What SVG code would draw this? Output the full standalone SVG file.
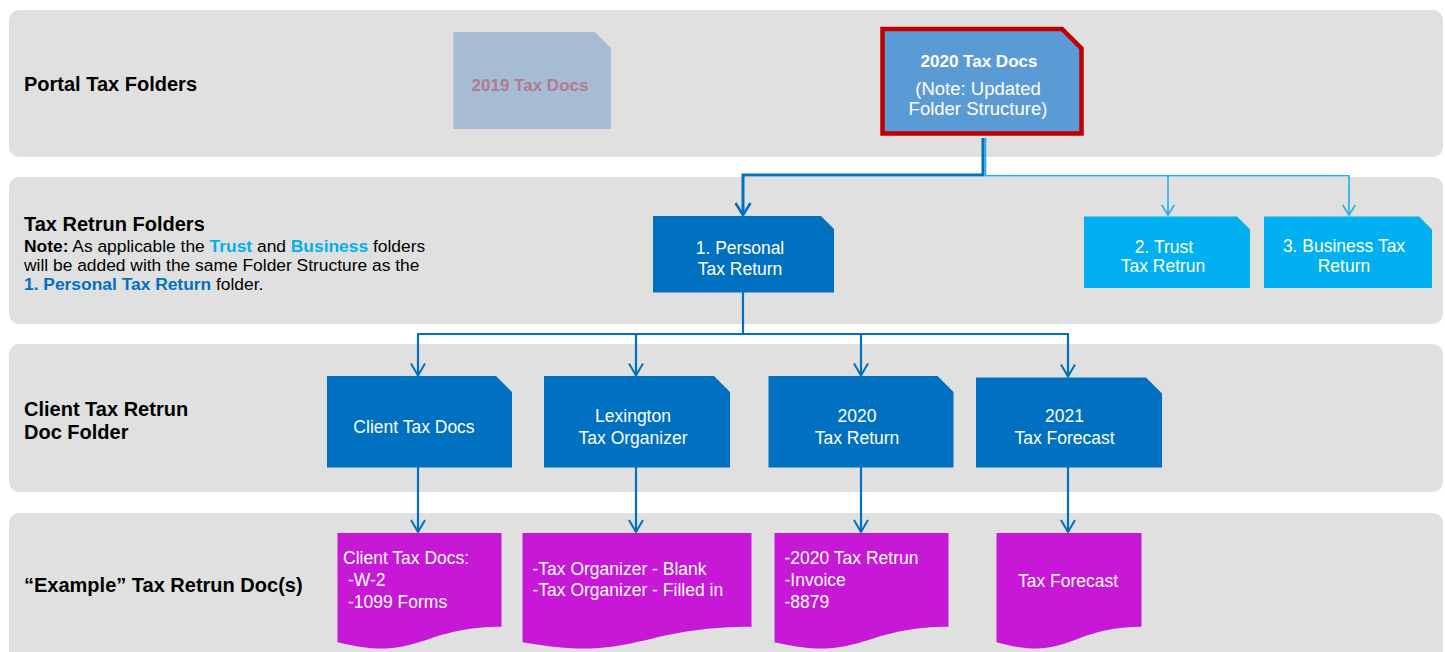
<svg xmlns="http://www.w3.org/2000/svg" width="1445" height="652" viewBox="0 0 1445 652">
<style>
text{font-family:"Liberation Sans",Arial,sans-serif;dominant-baseline:central}
.band{fill:#e0e0e0}
.lbl{font-size:20px;font-weight:bold;fill:#000}
.note{font-size:17.4px;fill:#000}
.b{font-weight:bold}
.lb{fill:#00b0f0}
.db{fill:#0070c0}
.bt{font-size:17.5px;fill:#fff;text-anchor:middle}
.dt{font-size:17.5px;fill:#fff}
.fold{fill:#0070c0}
.fold2{fill:#00b0f0}
.doc{fill:#c718d7}
.cd{fill:none;stroke:#0070c0}
.cl{fill:none;stroke:#1fb0ea;stroke-width:1.6}
</style>
<defs>
<marker id="ad" markerUnits="userSpaceOnUse" markerWidth="20" markerHeight="20" viewBox="-14 -10 16 20" refX="0" refY="0" orient="auto"><path d="M-12,-7.5 L0,0 L-12,7.5" fill="none" stroke="#0070c0" stroke-width="2.6"/></marker>
<marker id="at" markerUnits="userSpaceOnUse" markerWidth="20" markerHeight="20" viewBox="-14 -10 16 20" refX="0" refY="0" orient="auto"><path d="M-12,-7 L0,0 L-12,7" fill="none" stroke="#0070c0" stroke-width="2"/></marker>
<marker id="al" markerUnits="userSpaceOnUse" markerWidth="20" markerHeight="20" viewBox="-14 -10 16 20" refX="0" refY="0" orient="auto"><path d="M-10,-6.3 L0,0 L-10,6.3" fill="none" stroke="#1fb0ea" stroke-width="1.5"/></marker>
</defs>

<g id="bands">
<rect class="band" x="9" y="10" width="1434" height="147" rx="10"/>
<rect class="band" x="9" y="177" width="1434" height="147" rx="10"/>
<rect class="band" x="9" y="344" width="1434" height="148" rx="10"/>
<rect class="band" x="9" y="513" width="1434" height="160" rx="10"/>
</g>

<g id="row-labels">
<text class="lbl" x="24" y="83.5">Portal Tax Folders</text>
<text class="lbl" x="24" y="224">Tax Retrun Folders</text>
<text class="note" x="24" y="246"><tspan class="b">Note:</tspan> As applicable the <tspan class="b lb">Trust</tspan> and <tspan class="b lb">Business</tspan> folders</text>
<text class="note" x="24" y="264.5">will be added with the same Folder Structure as the</text>
<text class="note" x="24" y="283.5"><tspan class="b db">1. Personal Tax Return</tspan> folder.</text>
<text class="lbl" x="24" y="408.5">Client Tax Retrun</text>
<text class="lbl" x="24" y="432">Doc Folder</text>
<text class="lbl" x="24" y="585">“Example” Tax Retrun Doc(s)</text>
</g>

<g id="connectors">
<path class="cl" d="M985.5,138 V175.7 H1349 V215" marker-end="url(#al)"/>
<path class="cl" d="M1168,175.7 V215" marker-end="url(#al)"/>
<path class="cd" stroke-width="3" d="M983,138 V175 H743 V215" marker-end="url(#ad)"/>
<path class="cd" stroke-width="2.2" d="M743,292 V334 H418 V375.5" marker-end="url(#at)"/>
<path class="cd" stroke-width="2.2" d="M636,334 V375.5" marker-end="url(#at)"/>
<path class="cd" stroke-width="2.2" d="M743,334 H861 V375.5" marker-end="url(#at)"/>
<path class="cd" stroke-width="2.2" d="M861,334 H1068 V376.5" marker-end="url(#at)"/>
<path class="cd" stroke-width="2.2" d="M418,467 V532" marker-end="url(#at)"/>
<path class="cd" stroke-width="2.2" d="M636,467 V532" marker-end="url(#at)"/>
<path class="cd" stroke-width="2.2" d="M861,467 V532" marker-end="url(#at)"/>
<path class="cd" stroke-width="2.2" d="M1068,467 V532" marker-end="url(#at)"/>
</g>

<g id="node-2019">
<path d="M453.5,32 H595 L611,48 V129 H453.5 Z" fill="#a5bcd4"/>
<text x="530" y="85" font-size="17px" font-weight="bold" fill="#b57a8b" text-anchor="middle">2019 Tax Docs</text>
</g>

<g id="node-2020">
<path d="M882.5,29 H1062 L1081.5,48.5 V133.5 H882.5 Z" fill="#5b9bd5" stroke="#c00000" stroke-width="4.5"/>
<text x="979" y="61.5" font-size="17px" font-weight="bold" fill="#fff" text-anchor="middle">2020 Tax Docs</text>
<text x="978" y="88" font-size="18.5px" fill="#fff" text-anchor="middle">(Note: Updated</text>
<text x="978" y="108" font-size="18.5px" fill="#fff" text-anchor="middle">Folder Structure)</text>
</g>

<g id="node-personal">
<path class="fold" d="M653,216 H821 L834,229 V292.5 H653 Z"/>
<text class="bt" x="740" y="248">1. Personal</text>
<text class="bt" x="740" y="269">Tax Return</text>
</g>

<g id="node-trust">
<path class="fold2" d="M1084,216.5 H1237 L1250,229.5 V288 H1084 Z"/>
<text class="bt" x="1164" y="246.5">2. Trust</text>
<text class="bt" x="1163" y="266">Tax Retrun</text>
</g>

<g id="node-business">
<path class="fold2" d="M1264,216.5 H1419 L1432,229.5 V288 H1264 Z"/>
<text class="bt" x="1344" y="246">3. Business Tax</text>
<text class="bt" x="1344" y="266">Return</text>
</g>

<g id="node-client-folder">
<path class="fold" d="M327,376 H496 L512,392 V467.5 H327 Z"/>
<text class="bt" x="414" y="427">Client Tax Docs</text>
</g>

<g id="node-lexington">
<path class="fold" d="M544,376 H714 L730,392 V467.5 H544 Z"/>
<text class="bt" x="633" y="416">Lexington</text>
<text class="bt" x="633" y="437.5">Tax Organizer</text>
</g>

<g id="node-2020-return">
<path class="fold" d="M768.5,376 H937.5 L953.5,392 V467.5 H768.5 Z"/>
<text class="bt" x="857" y="416">2020</text>
<text class="bt" x="857" y="437.5">Tax Return</text>
</g>

<g id="node-2021-forecast">
<path class="fold" d="M976,377.5 H1146 L1162,393.5 V467.5 H976 Z"/>
<text class="bt" x="1064.5" y="416">2021</text>
<text class="bt" x="1064.5" y="437.5">Tax Forecast</text>
</g>

<g id="doc-client">
<path class="doc" d="M337.5,533 H501.5 V626.8 C419.5,626.8 419.5,662.6 337.5,642.3 Z"/>
<text class="dt" x="343" y="557.5">Client Tax Docs:</text>
<text class="dt" x="348" y="580">-W-2</text>
<text class="dt" x="348" y="602">-1099 Forms</text>
</g>

<g id="doc-organizer">
<path class="doc" d="M522.5,533 H751.5 V626.8 C637,626.8 637,662.6 522.5,642.3 Z"/>
<text class="dt" x="532.5" y="568.5">-Tax Organizer - Blank</text>
<text class="dt" x="532.5" y="590">-Tax Organizer - Filled in</text>
</g>

<g id="doc-return">
<path class="doc" d="M774.5,533 H948.5 V626.8 C861.5,626.8 861.5,662.6 774.5,642.3 Z"/>
<text class="dt" x="784.5" y="557.5">-2020 Tax Retrun</text>
<text class="dt" x="784.5" y="580">-Invoice</text>
<text class="dt" x="784.5" y="602">-8879</text>
</g>

<g id="doc-forecast">
<path class="doc" d="M996.5,533 H1141.5 V626.8 C1069,626.8 1069,662.6 996.5,642.3 Z"/>
<text class="dt" x="1068" y="581" text-anchor="middle">Tax Forecast</text>
</g>
</svg>
